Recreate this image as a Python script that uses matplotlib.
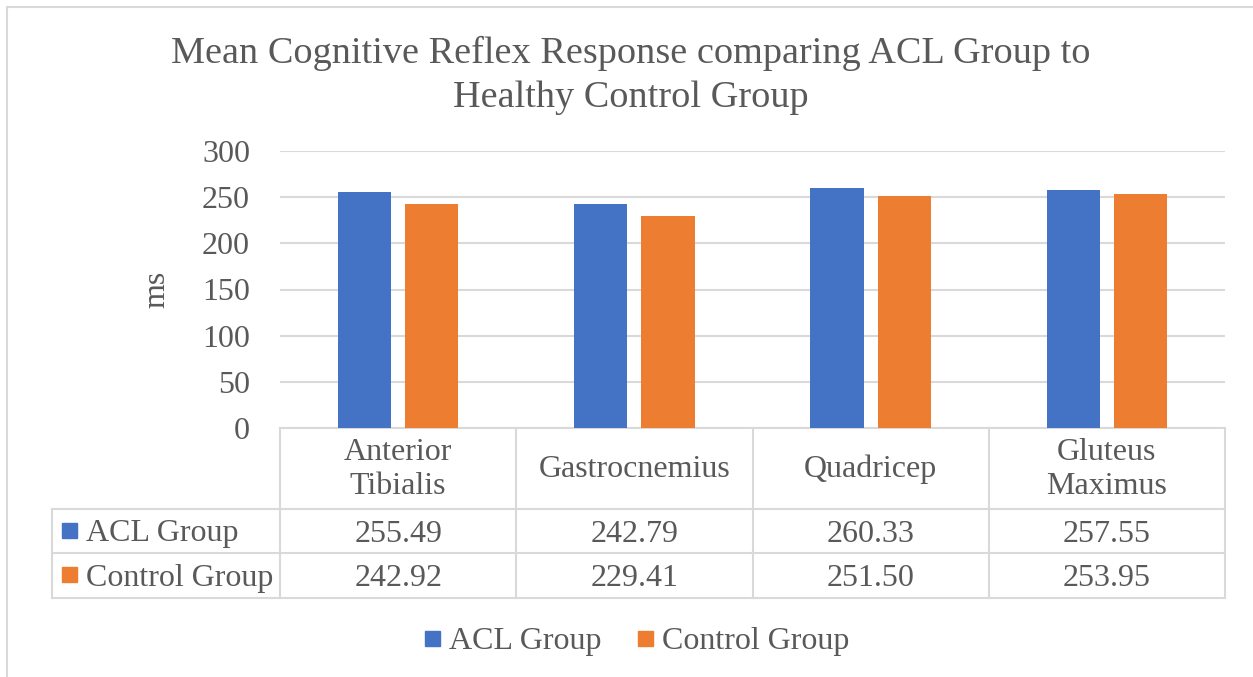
import matplotlib
matplotlib.use("Agg")
import matplotlib.pyplot as plt
from matplotlib import transforms
from matplotlib.patches import Rectangle
from matplotlib.lines import Line2D

categories = ["Anterior\nTibialis", "Gastrocnemius", "Quadricep", "Gluteus\nMaximus"]
series_names = ["ACL Group", "Control Group"]
acl_values = [255.49, 242.79, 260.33, 257.55]
control_values = [242.92, 229.41, 251.50, 253.95]
y_ticks = [0, 50, 100, 150, 200, 250, 300]
title_lines = ["Mean Cognitive Reflex Response comparing ACL Group to", "Healthy Control Group"]

BLUE = "#4472C4"
ORANGE = "#ED7D31"
TXT = "#595959"
GRID = "#D9D9D9"

plt.rcParams['font.family'] = ['Liberation Serif', 'DejaVu Serif']

W, H = 1253, 677
fig = plt.figure(figsize=(W / 100, H / 100), dpi=100)

def fx(px):
    return px / W

def fy(py):
    return 1 - py / H

# chart border
fig.patches.append(Rectangle((fx(7), fy(690)), fx(1260) - fx(7), fy(7) - fy(690),
                             transform=fig.transFigure, fill=False,
                             edgecolor=GRID, linewidth=1.5))

FS = 23

ax = fig.add_axes([fx(280), fy(428), fx(1225) - fx(280), fy(151) - fy(428)])
n = len(categories)
xs = list(range(n))
bw = 0.225
off = 0.142
ax.bar([x - off for x in xs], acl_values, width=bw, color=BLUE, zorder=3)
ax.bar([x + off for x in xs], control_values, width=bw, color=ORANGE, zorder=3)
ax.set_xlim(-0.5, n - 0.5)
ax.set_ylim(0, 300)
ax.set_yticks(y_ticks)
ax.set_yticklabels([str(t) for t in y_ticks])
ax.tick_params(axis='y', length=0, pad=21.6, labelsize=FS, labelcolor=TXT)
ax.set_xticks([])
for s in ax.spines.values():
    s.set_visible(False)
ax.yaxis.grid(True, color=GRID, linewidth=1.5, zorder=0)
ax.set_axisbelow(True)
ax.set_ylabel("ms", fontsize=FS, color=TXT, labelpad=22)

# data table
tr = transforms.blended_transform_factory(ax.transData, ax.transAxes)
ah = 428 - 151
def ay(py):
    return -(py - 428) / ah

def ux(px):
    return -0.5 + (px - 280) / 236.0

left_x = ux(52)
y_top, y_h1, y_h2, y_bot = ay(428), ay(509), ay(553), ay(598)
dy = 3 / ah

def hline(x0, x1, y):
    ax.add_line(Line2D([x0, x1], [y, y], transform=tr, color=GRID, lw=1.5, clip_on=False))

def vline(x, y0, y1):
    ax.add_line(Line2D([x, x], [y0, y1], transform=tr, color=GRID, lw=1.5, clip_on=False))

hline(-0.5, n - 0.5, y_top)
for yy in (y_h1, y_h2, y_bot):
    hline(left_x, n - 0.5, yy)
vline(left_x, y_h1, y_bot)
for b in range(n + 1):
    vline(b - 0.5, y_top, y_bot)

for i, c in enumerate(categories):
    ax.text(i, (y_top + y_h1) / 2 - 1 / ah, c, transform=tr, ha='center', va='center',
            fontsize=FS, color=TXT, linespacing=1.25, clip_on=False)
rows = [(series_names[0], acl_values, BLUE, (y_h1 + y_h2) / 2),
        (series_names[1], control_values, ORANGE, (y_h2 + y_bot) / 2)]
for name, vals, col, yc in rows:
    for i, v in enumerate(vals):
        ax.text(i, yc - dy, f"{v:.2f}", transform=tr, ha='center', va='center',
                fontsize=FS, color=TXT, clip_on=False)
    kh = 15 / ah
    ax.add_patch(Rectangle((ux(62), yc - kh / 2 + 1 / ah), ux(77) - ux(62), kh, transform=tr,
                           color=col, clip_on=False))
    ax.text(ux(86), yc - dy, name, transform=tr, ha='left', va='center',
            fontsize=FS, color=TXT, clip_on=False)

# title
fig.text(fx(631), fy(53), title_lines[0], ha='center', va='center', fontsize=27.5, color=TXT)
fig.text(fx(631), fy(98), title_lines[1], ha='center', va='center', fontsize=27.5, color=TXT)

# legend
leg_items = [(series_names[0], BLUE, 425), (series_names[1], ORANGE, 638)]
for name, col, kx in leg_items:
    fig.patches.append(Rectangle((fx(kx), fy(646)), fx(kx + 15) - fx(kx), fy(631) - fy(646),
                                 transform=fig.transFigure, color=col))
    fig.text(fx(kx + 24), fy(641), name, ha='left', va='center', fontsize=FS, color=TXT)

fig.savefig("out.png", dpi=100)
